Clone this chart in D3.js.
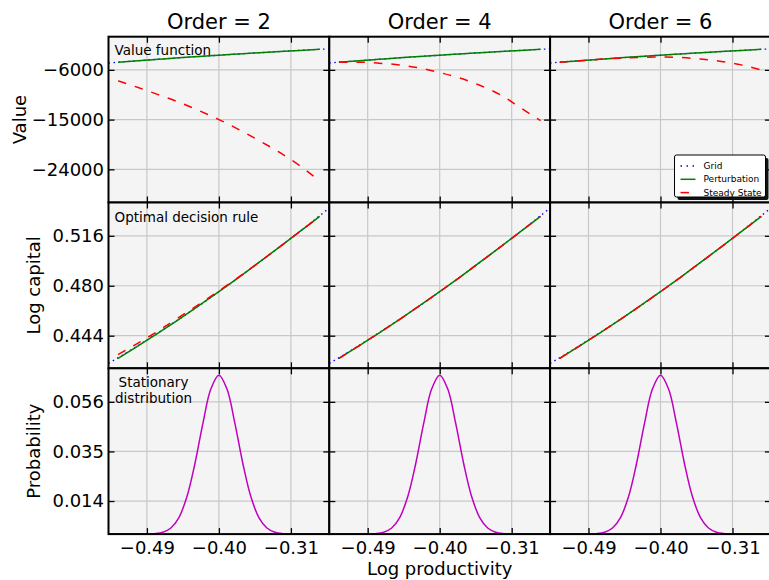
<!DOCTYPE html>
<html>
<head>
<meta charset="utf-8">
<script src="https://cdn.jsdelivr.net/npm/d3@7"></script>
<style>
  body { margin: 0; background: #fff; }
  svg { display: block; font-family: "DejaVu Sans", sans-serif; }
</style>
</head>
<body>
<div id="chart"></div>
<script>
// titles / ticks
const orderTitles = ["Order = 2", "Order = 4", "Order = 6"]
const xTicks = [-0.49, -0.40, -0.31]
const valueTicks = [-24000, -15000, -6000]
const capitalTicks = [0.444, 0.480, 0.516]
const probTicks = [0.014, 0.035, 0.056]

// x positions
const gridX = [-0.538, -0.510, -0.483, -0.455, -0.428, -0.400, -0.372, -0.345, -0.317, -0.290, -0.262]
const pertX = [-0.526, -0.501, -0.476, -0.450, -0.425, -0.400, -0.375, -0.350, -0.324, -0.299, -0.274]
const distX = [-0.54, -0.53, -0.52, -0.51, -0.50, -0.49, -0.48, -0.47, -0.46, -0.45, -0.44, -0.43, -0.42, -0.41, -0.40,
  -0.39, -0.38, -0.37, -0.36, -0.35, -0.34, -0.33, -0.32, -0.31, -0.30, -0.29, -0.28, -0.27, -0.26]

// value function
const valueGrid = [-4741, -4440, -4159, -3876, -3614, -3350, -3096, -2860, -2625, -2408, -2191]
const valuePert = [-4611, -4345, -4087, -3827, -3585, -3350, -3123, -2903, -2683, -2479, -2283]
const valueSS2 = [-8000, -9200, -10480, -11860, -13360, -15000, -16800, -18780, -20950, -23330, -26100]
const valueSS4 = [-4600, -4610, -4790, -5120, -5680, -6490, -7480, -8780, -10530, -12850, -15200]
const valueSS6 = [-4611, -4345, -4087, -3877, -3735, -3650, -3763, -4043, -4483, -5099, -6033]

// decision rule (log capital)
const capitalGrid = [0.4240, 0.4337, 0.4435, 0.4540, 0.4644, 0.4757, 0.4874, 0.4990, 0.5112, 0.5232, 0.5360]
const capitalPert = [0.4277, 0.4367, 0.4459, 0.4558, 0.4656, 0.4757, 0.4861, 0.4968, 0.5080, 0.5190, 0.5300]
const capitalSS2 = [0.4304, 0.4387, 0.4474, 0.4572, 0.4666, 0.4763, 0.4864, 0.4968, 0.5080, 0.5190, 0.5298]
const capitalSS4 = [0.4277, 0.4367, 0.4459, 0.4558, 0.4657, 0.4757, 0.4861, 0.4968, 0.5080, 0.5190, 0.5300]
const capitalSS6 = [0.4277, 0.4367, 0.4459, 0.4558, 0.4656, 0.4757, 0.4861, 0.4968, 0.5080, 0.5190, 0.5300]

// stationary distribution
const probDist = [0, 0, 0, 0, 0, 0.00004, 0.0002, 0.0008, 0.0026, 0.0070, 0.0158, 0.0298, 0.0469, 0.0615, 0.0673,
  0.0615, 0.0469, 0.0298, 0.0158, 0.0070, 0.0026, 0.0008, 0.0002, 0.00004, 0, 0, 0, 0, 0]

const width = 769
const height = 580
const marginLeft = 108.5
const marginTop = 36.7
const panelW = 220.8
const panelH = 165.8

const svg = d3.select("#chart")
  .append("svg")
  .attr("width", width)
  .attr("height", height)

const x = d3.scaleLinear().domain([-0.538, -0.262]).range([0, panelW])

const rows = [
  {
    label: "Value", labelX: 26,
    y: d3.scaleLinear().domain([-30000, 0]).range([panelH, 0]),
    ticks: valueTicks, fmt: d3.format(".0f"),
    grid: valueGrid, pert: valuePert, ss: [valueSS2, valueSS4, valueSS6]
  },
  {
    label: "Log capital", labelX: 40,
    y: d3.scaleLinear().domain([0.4205, 0.540]).range([panelH, 0]),
    ticks: capitalTicks, fmt: d3.format(".3f"),
    grid: capitalGrid, pert: capitalPert, ss: [capitalSS2, capitalSS4, capitalSS6]
  },
  {
    label: "Probability", labelX: 40,
    y: d3.scaleLinear().domain([0, 0.0702]).range([panelH, 0]),
    ticks: probTicks, fmt: d3.format(".3f"),
    dist: probDist
  }
]

const colors = { grid: "#0000ff", pert: "#008000", ss: "#ff0000", dist: "#bf00bf" }

function styleAxis(g, showLabels) {
  g.select(".domain").remove()
  g.selectAll(".tick line").attr("stroke", "#000").attr("stroke-width", 1.3)
  g.selectAll(".tick text")
    .attr("fill", "#000")
    .style("font-size", "18px")
    .style("font-family", "'DejaVu Sans', sans-serif")
  if (!showLabels) g.selectAll(".tick text").remove()
}

rows.forEach((row, r) => {
  orderTitles.forEach((title, c) => {
    const px = marginLeft + c * panelW
    const py = marginTop + r * panelH
    const panel = svg.append("g").attr("transform", `translate(${px},${py})`)
    const y = row.y

    panel.append("rect")
      .attr("width", panelW)
      .attr("height", panelH)
      .attr("fill", "#f4f4f4")

    // gridlines
    panel.selectAll(".vgrid")
      .data(xTicks)
      .enter()
      .append("line")
      .attr("x1", d => x(d)).attr("x2", d => x(d))
      .attr("y1", 0).attr("y2", panelH)
      .attr("stroke", "#c8c8c8")
      .attr("stroke-width", 1.2)
    panel.selectAll(".hgrid")
      .data(row.ticks)
      .enter()
      .append("line")
      .attr("x1", 0).attr("x2", panelW)
      .attr("y1", d => y(d)).attr("y2", d => y(d))
      .attr("stroke", "#c8c8c8")
      .attr("stroke-width", 1.2)

    const clipId = `clip-${r}-${c}`
    panel.append("clipPath").attr("id", clipId)
      .append("rect").attr("width", panelW).attr("height", panelH)
    const plot = panel.append("g").attr("clip-path", `url(#${clipId})`)

    if (row.dist) {
      const line = d3.line()
        .x((d, i) => x(distX[i]))
        .y(d => y(d))
        .curve(d3.curveCatmullRom)
      plot.append("path")
        .attr("d", line(row.dist))
        .attr("fill", "none")
        .attr("stroke", colors.dist)
        .attr("stroke-width", 1.5)
    } else {
      const gridLine = d3.line().x((d, i) => x(gridX[i])).y(d => y(d)).curve(d3.curveMonotoneX)
      const pertLine = d3.line().x((d, i) => x(pertX[i])).y(d => y(d)).curve(d3.curveMonotoneX)
      plot.append("path")
        .attr("d", gridLine(row.grid))
        .attr("fill", "none")
        .attr("stroke", colors.grid)
        .attr("stroke-width", 1.3)
        .attr("stroke-dasharray", "1.5,3.5")
      plot.append("path")
        .attr("d", pertLine(row.pert))
        .attr("fill", "none")
        .attr("stroke", colors.pert)
        .attr("stroke-width", 1.5)
      plot.append("path")
        .attr("d", pertLine(row.ss[c]))
        .attr("fill", "none")
        .attr("stroke", colors.ss)
        .attr("stroke-width", 1.5)
        .attr("stroke-dasharray", "8.5,9")
    }

    // inward ticks on all four sides
    panel.append("g")
      .attr("transform", `translate(0,${panelH})`)
      .call(d3.axisBottom(x).tickValues(xTicks).tickSize(-6).tickPadding(7).tickFormat(d3.format(".2f")))
      .call(g => styleAxis(g, r === 2))
    panel.append("g")
      .call(d3.axisTop(x).tickValues(xTicks).tickSize(-6).tickFormat(""))
      .call(g => styleAxis(g, false))
    panel.append("g")
      .call(d3.axisLeft(y).tickValues(row.ticks).tickSize(-6).tickPadding(4.5).tickFormat(row.fmt))
      .call(g => styleAxis(g, c === 0))
    panel.append("g")
      .attr("transform", `translate(${panelW},0)`)
      .call(d3.axisRight(y).tickValues(row.ticks).tickSize(-6).tickFormat(""))
      .call(g => styleAxis(g, false))

    panel.append("rect")
      .attr("width", panelW)
      .attr("height", panelH)
      .attr("fill", "none")
      .attr("stroke", "#000")
      .attr("stroke-width", 2)
  })

  // y label
  svg.append("text")
    .attr("transform", `translate(${row.labelX},${marginTop + r * panelH + panelH / 2}) rotate(-90)`)
    .attr("text-anchor", "middle")
    .style("font-size", "18px")
    .text(row.label)
})

// column titles
orderTitles.forEach((t, c) => {
  svg.append("text")
    .attr("x", marginLeft + c * panelW + panelW / 2)
    .attr("y", 29)
    .attr("text-anchor", "middle")
    .style("font-size", "21px")
    .text(t)
})

// x label
svg.append("text")
  .attr("x", marginLeft + panelW * 1.5)
  .attr("y", 575)
  .attr("text-anchor", "middle")
  .style("font-size", "18px")
  .text("Log productivity")

// panel notes
svg.append("text").attr("x", 114.5).attr("y", 55).style("font-size", "13.5px").text("Value function")
svg.append("text").attr("x", 114.5).attr("y", 222).style("font-size", "13.5px").text("Optimal decision rule")
svg.append("text").attr("x", 153.5).attr("y", 387).attr("text-anchor", "middle").style("font-size", "13.5px").text("Stationary")
svg.append("text").attr("x", 153.5).attr("y", 403).attr("text-anchor", "middle").style("font-size", "13.5px").text("distribution")

// legend in the top-right panel
const legendItems = [
  { name: "Grid", color: colors.grid, dash: "1.5,4.5" },
  { name: "Perturbation", color: colors.pert, dash: null },
  { name: "Steady State", color: colors.ss, dash: "8.5,9" }
]
const legend = svg.append("g").attr("transform", "translate(674.5,155)")
legend.append("rect")
  .attr("x", 3).attr("y", 3)
  .attr("width", 91).attr("height", 42)
  .attr("rx", 2)
  .attr("fill", "#111")
legend.append("rect")
  .attr("width", 91).attr("height", 42)
  .attr("rx", 2)
  .attr("fill", "#fff")
  .attr("stroke", "#000")
  .attr("stroke-width", 1)
const entries = legend.selectAll(".entry")
  .data(legendItems)
  .enter()
  .append("g")
  .attr("transform", (d, i) => `translate(0,${11 + i * 13.3})`)
entries.append("line")
  .attr("x1", 6).attr("x2", 21)
  .attr("stroke", d => d.color)
  .attr("stroke-width", d => d.dash === "1.5,4.5" ? 1.3 : 1.5)
  .attr("stroke-dasharray", d => d.dash)
entries.append("text")
  .attr("x", 29)
  .attr("dy", "0.35em")
  .style("font-size", "9px")
  .text(d => d.name)
</script>
</body>
</html>
